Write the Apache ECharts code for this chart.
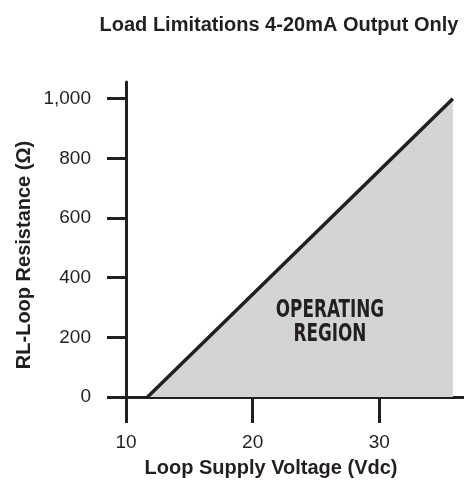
<!DOCTYPE html>
<html><head><meta charset="utf-8">
<script src="https://cdn.jsdelivr.net/npm/echarts@6/dist/echarts.min.js"></script>
<style>html,body{margin:0;padding:0;background:#fff}#c{width:464px;height:483px}</style>
</head><body><div id="c"></div>
<script>
var titleText = 'Load Limitations 4-20mA Output Only';
var xAxisName = 'Loop Supply Voltage (Vdc)';
var yAxisName = 'RL-Loop Resistance (\u03A9)';
var xTicks = [10, 20, 30];
var yTicks = [0, 200, 400, 600, 800, 1000];
var voltage = [11.7, 35.8];
var resistance = [0, 1000];
var regionLabel = ['OPERATING', 'REGION'];
var regionPos = [26.1, 250];

var ink = '#231f20';
var font = '"Liberation Sans", Arial, Helvetica, sans-serif';
var chart = echarts.init(document.getElementById('c'), null, {renderer: 'canvas'});
var lineData = voltage.map(function (v, i) { return [v, resistance[i]]; });
chart.setOption({
  animation: false,
  backgroundColor: '#fff',
  title: {
    text: titleText, left: 274, top: 10, textAlign: 'center',
    textStyle: {fontFamily: font, fontSize: 20, fontWeight: 'bold', color: ink}
  },
  grid: {left: 126, right: 0, top: 82, bottom: 86, containLabel: false},
  xAxis: {
    type: 'value', min: 10, max: 36.68,
    axisLine: {onZero: false, lineStyle: {color: ink, width: 3}},
    axisTick: {show: true, length: 26, lineStyle: {color: ink, width: 3}, customValues: xTicks},
    axisLabel: {customValues: xTicks, margin: 36, color: ink, fontFamily: font, fontSize: 19},
    splitLine: {show: false}
  },
  yAxis: {
    type: 'value', min: 0, max: 1056,
    axisLine: {show: true, onZero: false, lineStyle: {color: ink, width: 3}},
    axisTick: {show: true, length: 19, lineStyle: {color: ink, width: 3}, customValues: yTicks},
    axisLabel: {customValues: yTicks, margin: 35, color: ink, fontFamily: font, fontSize: 19,
      formatter: function (v) { return v.toLocaleString('en-US'); }},
    splitLine: {show: false}
  },
  series: [{
    type: 'line', data: lineData, symbol: 'none', z: 3,
    lineStyle: {color: ink, width: 3.5},
    areaStyle: {color: '#d3d4d6', opacity: 1, origin: 'start'}
  }]
});
var p = chart.convertToPixel({gridIndex: 0}, regionPos);
chart.setOption({
  graphic: [
    {type: 'text', x: 271, y: 468, style: {text: xAxisName, fill: ink, font: 'bold 20px ' + font, textAlign: 'center', textVerticalAlign: 'middle'}},
    {type: 'text', x: 24, y: 255, rotation: Math.PI / 2, style: {text: yAxisName, fill: ink, font: 'bold 20px ' + font, textAlign: 'center', textVerticalAlign: 'middle'}},
    {type: 'text', x: p[0], y: p[1], scaleX: 0.78, z: 10,
      style: {text: regionLabel.join('\n'), fill: ink, font: 'bold 24px "DejaVu Sans Condensed", "DejaVu Sans", sans-serif',
        lineHeight: 24, textAlign: 'center', textVerticalAlign: 'middle'}}
  ]
});
</script></body></html>
